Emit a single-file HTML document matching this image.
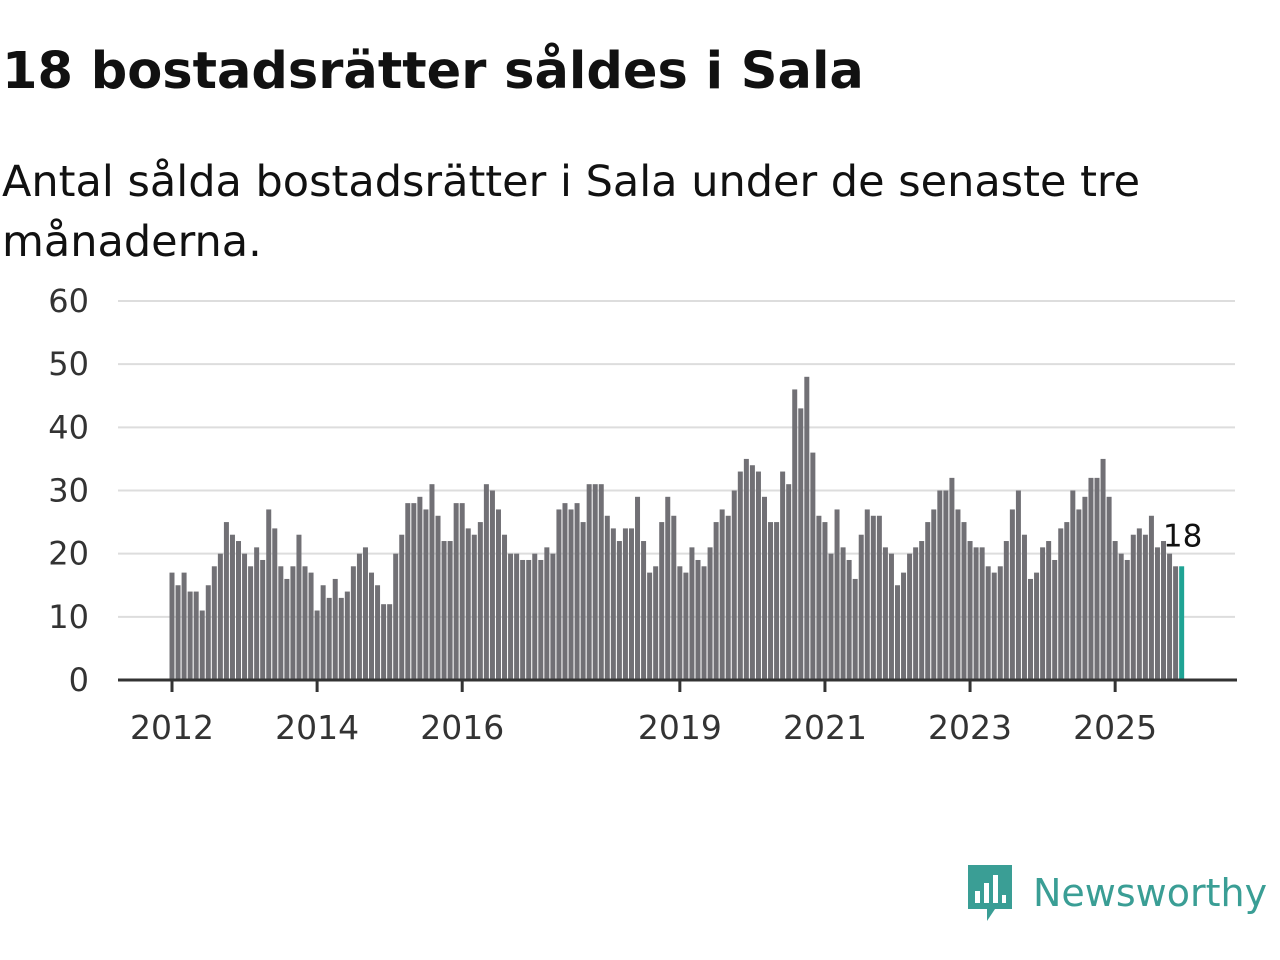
<!DOCTYPE html>
<html><head><meta charset="utf-8"><style>
body{margin:0;background:#fff;width:1280px;height:960px;overflow:hidden;font-family:"DejaVu Sans","Liberation Sans",sans-serif;color:#111}
h1{position:absolute;left:2px;top:42px;margin:0;font-size:51px;font-weight:bold;color:#111;white-space:nowrap}
.sub{position:absolute;left:2px;top:152px;margin:0;font-size:43px;line-height:60px;color:#111;width:1275px;white-space:nowrap}
</style></head><body>
<h1>18 bostadsrätter såldes i Sala</h1>
<p class="sub">Antal sålda bostadsrätter i Sala under de senaste tre<br>månaderna.</p>
<svg id="chart" width="1280" height="960" style="position:absolute;left:0;top:0"></svg>
<div style="position:absolute;left:965px;top:862px;display:flex;align-items:center">
<svg width="50" height="62" viewBox="0 0 50 60"><path d="M3 2h44v44H30l-8 12v-12H3z" fill="#3a9e95"/><rect x="10" y="28" width="5" height="12" fill="#fff"/><rect x="19" y="20" width="5" height="20" fill="#fff"/><rect x="28" y="12" width="5" height="28" fill="#fff"/><rect x="37" y="32" width="4" height="8" fill="#fff"/></svg>
<span style="font-size:38px;color:#3a9e95;margin-left:18px;font-family:'DejaVu Sans',sans-serif">Newsworthy</span></div>
<script>
const values=[17,15,17,14,14,11,15,18,20,25,23,22,
20,18,21,19,27,24,18,16,18,23,18,17,
11,15,13,16,13,14,18,20,21,17,15,12,
12,20,23,28,28,29,27,31,26,22,22,28,
28,24,23,25,31,30,27,23,20,20,19,19,
20,19,21,20,27,28,27,28,25,31,31,31,
26,24,22,24,24,29,22,17,18,25,29,26,
18,17,21,19,18,21,25,27,26,30,33,35,
34,33,29,25,25,33,31,46,43,48,36,26,
25,20,27,21,19,16,23,27,26,26,21,20,
15,17,20,21,22,25,27,30,30,32,27,25,
22,21,21,18,17,18,22,27,30,23,16,17,
21,22,19,24,25,30,27,29,32,32,35,29,
22,20,19,23,24,23,26,21,22,20,18,18];
const startYear=2012;
const yTicks=[0,10,20,30,40,50,60];
const xTickYears=[2012,2014,2016,2019,2021,2023,2025];
const svg=document.getElementById('chart');
const NS='http://www.w3.org/2000/svg';
const x0=172, pxPerMonth=72.55/12, y0=680, pxPerUnit=(680-301)/60;
const xs=i=>x0+i*pxPerMonth;
const ys=v=>y0-v*pxPerUnit;
const FF='DejaVu Sans, Liberation Sans, sans-serif';
function el(t,a){const e=document.createElementNS(NS,t);for(const k in a)e.setAttribute(k,a[k]);svg.appendChild(e);return e;}
yTicks.forEach(t=>{
 if(t>0){const g=el('line',{x1:118,x2:1235,y1:ys(t),y2:ys(t),stroke:'#ddd','stroke-width':2});
 
 }
 const l=el('text',{x:89,y:ys(t)+11,'text-anchor':'end','font-size':32,fill:'#333','font-family':FF});
 l.textContent=t;
 
 
});
values.forEach((v,i)=>{
 const last=i===values.length-1;
 const r=el('rect',{x:xs(i)-2.5,y:ys(v),width:5,height:v*pxPerUnit,fill:last?'#1fa394':'#717075'});
 
 
});
const li=values.length-1;
const vl=el('text',{x:xs(li)+1,y:ys(values[li])-20,'text-anchor':'middle','font-size':31,fill:'#111','font-family':FF});
vl.textContent=values[li];


const ax=el('line',{x1:118,x2:1237,y1:y0,y2:y0,stroke:'#333','stroke-width':3});


xTickYears.forEach(yr=>{
 const x=xs((yr-startYear)*12);
 const t=el('line',{x1:x,x2:x,y1:y0,y2:y0+12,stroke:'#333','stroke-width':3});
 
 
 const l=el('text',{x:x,y:739,'text-anchor':'middle','font-size':33,fill:'#333','font-family':FF});
 l.textContent=yr;
 
 
});
</script>
</body></html>
